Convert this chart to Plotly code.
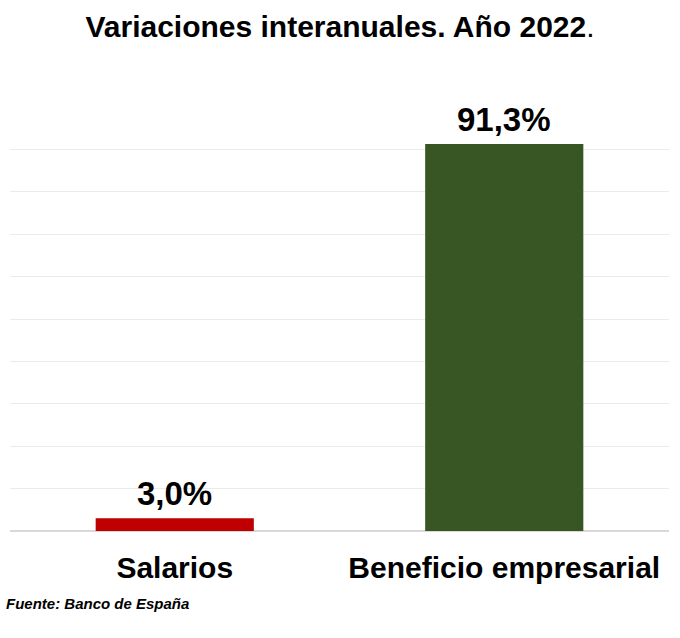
import plotly.graph_objects as go

categories = ["Salarios", "Beneficio empresarial"]
values = [3.0, 91.3]
value_labels = ["3,0%", "91,3%"]
bar_colors = ["#c00000", "#375623"]
grid_ticks = [0, 10, 20, 30, 40, 50, 60, 70, 80, 90]

FONT = "Liberation Sans, Arial, sans-serif"

fig = go.Figure()
fig.add_trace(go.Bar(
    x=categories,
    y=values,
    marker=dict(color=bar_colors, line=dict(width=0)),
    cliponaxis=False,
    hoverinfo="skip",
))

for cat, val, lab in zip(categories, values, value_labels):
    fig.add_annotation(
        x=cat, y=val, xref="x", yref="y",
        text=f"<b>{lab}</b>",
        showarrow=False,
        xanchor="center", yanchor="bottom",
        yshift=4,
        font=dict(family=FONT, size=33, color="#000000"),
    )

fig.update_layout(
    width=680, height=638,
    margin=dict(l=10, r=11, t=107, b=107),
    paper_bgcolor="#ffffff",
    plot_bgcolor="#ffffff",
    bargap=0.52,
    showlegend=False,
    title=dict(
        text="<b>Variaciones interanuales. Año 2022</b>.",
        x=0.5, xanchor="center",
        y=1 - 26 / 638, yanchor="middle", yref="container",
        font=dict(family=FONT, size=30, color="#000000"),
    ),
    font=dict(family=FONT, color="#000000"),
)

fig.update_xaxes(
    showgrid=False,
    showline=False,
    ticks="",
    tickfont=dict(family=FONT, size=30, color="#000000", weight="bold"),
    ticklabelstandoff=16,
)
fig.update_yaxes(
    range=[0, 100],
    tickvals=grid_ticks,
    showticklabels=False,
    showgrid=True,
    gridcolor="#ebebeb",
    gridwidth=1,
    zeroline=True,
    zerolinecolor="#d9d9d9",
    zerolinewidth=2,
    showline=False,
)

fig.add_annotation(
    text="<b><i>Fuente: Banco de España</i></b>",
    xref="paper", yref="paper",
    x=-6 / 659, y=-(603 - 531) / 424,
    xanchor="left", yanchor="middle",
    showarrow=False,
    font=dict(family=FONT, size=15, color="#000000"),
)

fig.write_html("out.html")
